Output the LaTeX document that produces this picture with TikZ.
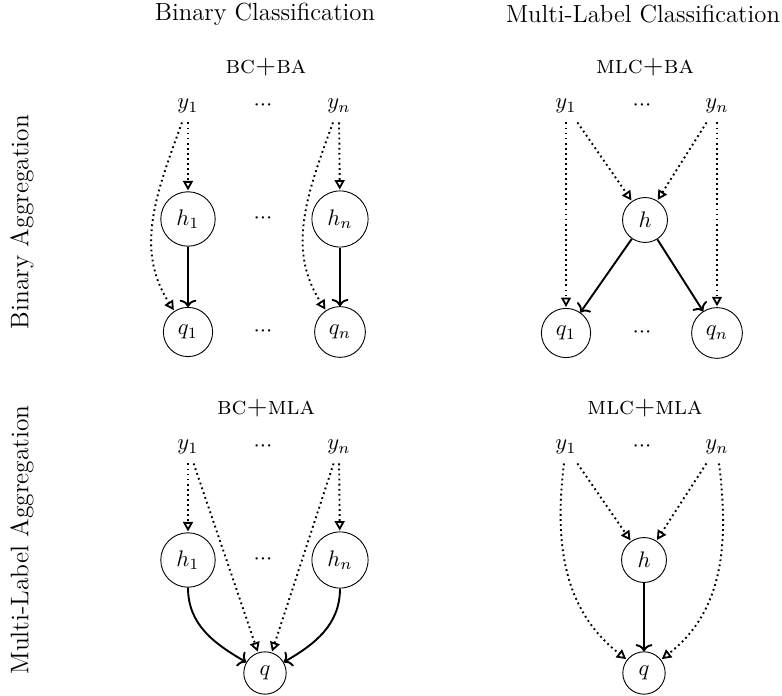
\documentclass[tikz,border=0pt]{standalone}
\usetikzlibrary{arrows.meta}
\begin{document}
\begin{tikzpicture}[x=0.4444pt,y=0.4444pt,
  lat/.style={circle,draw,thin,inner sep=3.9pt},
  obs/.style={inner sep=4pt},
  dts/.style={inner sep=2pt},
  ttl/.style={inner sep=0pt,font=\fontsize{11}{13}\selectfont},
  sub/.style={inner sep=0pt,font=\fontsize{11.2}{13}\selectfont},
  side/.style={inner sep=0pt,rotate=90,font=\fontsize{11.3}{13}\selectfont},
  dep/.style={line width=0.85pt,dash pattern=on 0.8pt off 1.45pt,-{Triangle[open,length=4.2pt,width=4.4pt,line width=0.8pt]},shorten >=0.4pt},
  inf/.style={line width=0.85pt,-{Computer Modern Rightarrow[length=3.2pt,width=7.5pt]}}]
\newcommand{\hdots}{${\cdot}{\cdot}{\cdot}$}
\useasboundingbox (0,0) rectangle (782,-696);
% headers
\node[ttl] (hbc) at (265,-14) {Binary Classification};
\node[ttl] (hmlc) at (643,-14) {Multi-Label Classification};
\node[side] (hba) at (22,-222) {Binary Aggregation};
\node[side] (hmla) at (22,-540) {Multi-Label Aggregation};
% ---------- panel 1: BC+BA
\node[sub] (t1) at (266,-67) {\textsc{bc+ba}};
\node[obs] (a-y1) at (188,-106) {$y_1$};
\node[dts] (a-yd) at (263,-106) {\hdots};
\node[obs] (a-yn) at (339,-106) {$y_n$};
\node[lat] (a-h1) at (188,-219) {$h_1$};
\node[dts] (a-hd) at (263,-219) {\hdots};
\node[lat] (a-hn) at (340,-219) {$h_n$};
\node[lat] (a-q1) at (188,-332) {$q_1$};
\node[dts] (a-qd) at (263,-332) {\hdots};
\node[lat] (a-qn) at (340,-332) {$q_n$};
\draw[dep] (a-y1) -- (a-h1);
\draw[dep] (a-yn) -- (a-hn);
\draw[dep] (a-y1) to[out=-110,in=123] (a-q1);
\draw[dep] (a-yn) to[out=-110,in=123] (a-qn);
\draw[inf] (a-h1) -- (a-q1);
\draw[inf] (a-hn) -- (a-qn);
% ---------- panel 2: MLC+BA
\node[sub] (t2) at (645,-67) {\textsc{mlc+ba}};
\node[obs] (b-y1) at (566,-106) {$y_1$};
\node[dts] (b-yd) at (642,-106) {\hdots};
\node[obs] (b-yn) at (717,-106) {$y_n$};
\node[lat] (b-h) at (645,-220) {$h$};
\node[lat] (b-q1) at (566,-333) {$q_1$};
\node[dts] (b-qd) at (642,-333) {\hdots};
\node[lat] (b-qn) at (717,-333) {$q_n$};
\draw[dep] (b-y1) -- (b-h);
\draw[dep] (b-yn) -- (b-h);
\draw[dep] (b-y1) -- (b-q1);
\draw[dep] (b-yn) -- (b-qn);
\draw[inf] (b-h) -- (b-q1);
\draw[inf] (b-h) -- (b-qn);
% ---------- panel 3: BC+MLA
\node[sub] (t3) at (266,-408) {\textsc{bc+mla}};
\node[obs] (c-y1) at (188,-447) {$y_1$};
\node[dts] (c-yd) at (263,-447) {\hdots};
\node[obs] (c-yn) at (339,-447) {$y_n$};
\node[lat] (c-h1) at (188,-560) {$h_1$};
\node[dts] (c-hd) at (263,-560) {\hdots};
\node[lat] (c-hn) at (340,-560) {$h_n$};
\node[lat] (c-q) at (265,-673) {$q$};
\draw[dep] (c-y1) -- (c-h1);
\draw[dep] (c-yn) -- (c-hn);
\draw[dep] (c-y1) -- (c-q);
\draw[dep] (c-yn) -- (c-q);
\draw[inf] (c-h1) to[out=-90,in=150] (c-q);
\draw[inf] (c-hn) to[out=-90,in=30] (c-q);
% ---------- panel 4: MLC+MLA
\node[sub] (t4) at (645,-408) {\textsc{mlc+mla}};
\node[obs] (d-y1) at (566,-447) {$y_1$};
\node[dts] (d-yd) at (642,-447) {\hdots};
\node[obs] (d-yn) at (717,-447) {$y_n$};
\node[lat] (d-h) at (644,-560) {$h$};
\node[lat] (d-q) at (644,-673) {$q$};
\draw[dep] (d-y1) -- (d-h);
\draw[dep] (d-yn) -- (d-h);
\draw[dep] (d-y1) to[out=-97,in=142] (d-q);
\draw[dep] (d-yn) to[out=-83,in=38] (d-q);
\draw[inf] (d-h) -- (d-q);
\end{tikzpicture}
\end{document}
